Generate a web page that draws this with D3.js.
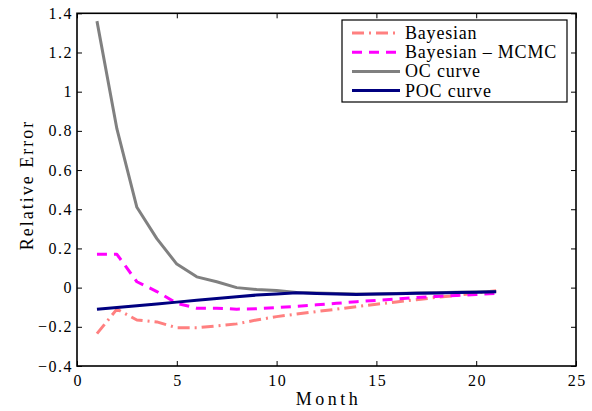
<!DOCTYPE html>
<html>
<head>
<meta charset="utf-8">
<script src="https://cdn.jsdelivr.net/npm/d3@7/dist/d3.min.js"></script>
<style>
  html, body { margin: 0; padding: 0; background: #fff; }
  svg { display: block; }
</style>
</head>
<body>
<svg id="chart" width="592" height="411"></svg>
<script>
// Relative error of each estimator by month
const months = [1, 2, 3, 4, 5, 6, 7, 8, 9, 10, 11, 12, 13, 14, 15, 16, 17, 18, 19, 20, 21];
const bayesian = [-0.235, -0.11, -0.165, -0.175, -0.205, -0.205, -0.195, -0.185, -0.165, -0.148, -0.135, -0.122, -0.11, -0.097, -0.085, -0.073, -0.062, -0.05, -0.04, -0.028, -0.016];
const bayesianMCMC = [0.17, 0.17, 0.03, -0.02, -0.08, -0.105, -0.105, -0.11, -0.108, -0.102, -0.095, -0.088, -0.08, -0.072, -0.065, -0.058, -0.051, -0.045, -0.04, -0.035, -0.03];
const ocCurve = [1.36, 0.81, 0.41, 0.25, 0.12, 0.055, 0.03, 0.0, -0.01, -0.015, -0.025, -0.028, -0.03, -0.033, -0.032, -0.03, -0.028, -0.026, -0.024, -0.022, -0.02];
const pocCurve = [-0.11, -0.101, -0.092, -0.083, -0.074, -0.065, -0.056, -0.047, -0.038, -0.032, -0.026, -0.03, -0.033, -0.035, -0.033, -0.031, -0.029, -0.027, -0.025, -0.023, -0.021];

const xTicks = [0, 5, 10, 15, 20, 25];
const yTicks = [-0.4, -0.2, 0, 0.2, 0.4, 0.6, 0.8, 1, 1.2, 1.4];

const series = [
  { name: "Bayesian", values: bayesian, color: "#ff8080", dash: "12,5,2,5" },
  { name: "Bayesian \u2013 MCMC", values: bayesianMCMC, color: "#ff00ff", dash: "10,7" },
  { name: "OC curve", values: ocCurve, color: "#808080", dash: null },
  { name: "POC curve", values: pocCurve, color: "#000080", dash: null }
];

const SERIF = '"Liberation Serif", "Times New Roman", serif';

const svg = d3.select("#chart");
const plotLeft = 77, plotRight = 576, plotTop = 13.3, plotBottom = 366;

const x = d3.scaleLinear().domain([0, 25]).range([plotLeft, plotRight]);
const y = d3.scaleLinear().domain([-0.4, 1.4]).range([plotBottom, plotTop]);

const fmt = v => (v < 0 ? "\u2212" : "") + d3.format("")(Math.abs(+v.toFixed(1)));

// Series lines (drawn under the frame)
const line = d3.line().x((d, i) => x(months[i])).y(d => y(d));
const plot = svg.append("g");
series.forEach(s => {
  plot.append("path")
    .attr("d", line(s.values))
    .attr("fill", "none")
    .attr("stroke", s.color)
    .attr("stroke-width", 3)
    .attr("stroke-linejoin", "round")
    .attr("stroke-dasharray", s.dash);
});

// Axes with inward ticks on all four sides
const tickLen = 5;
const bottomAxis = svg.append("g").attr("transform", `translate(0,${plotBottom})`)
  .call(d3.axisBottom(x).tickValues(xTicks).tickSizeInner(-tickLen).tickSizeOuter(0).tickPadding(9).tickFormat(d3.format("")));
const topAxis = svg.append("g").attr("transform", `translate(0,${plotTop})`)
  .call(d3.axisTop(x).tickValues(xTicks).tickSizeInner(-tickLen).tickSizeOuter(0).tickFormat(""));
const leftAxis = svg.append("g").attr("transform", `translate(${plotLeft},0)`)
  .call(d3.axisLeft(y).tickValues(yTicks).tickSizeInner(-tickLen).tickSizeOuter(0).tickPadding(4).tickFormat(fmt));
const rightAxis = svg.append("g").attr("transform", `translate(${plotRight},0)`)
  .call(d3.axisRight(y).tickValues(yTicks).tickSizeInner(-tickLen).tickSizeOuter(0).tickFormat(""));

[bottomAxis, topAxis, leftAxis, rightAxis].forEach(g => {
  g.select(".domain").remove();
  g.selectAll(".tick line").attr("stroke", "#000").attr("stroke-width", 1);
  g.selectAll("text")
    .style("font-family", SERIF).style("font-size", "16px")
    .style("letter-spacing", "1.5px").style("fill", "#000");
});
bottomAxis.selectAll("text").attr("dy", "0.71em").attr("dx", "0.75");

// Frame
svg.append("rect")
  .attr("x", plotLeft).attr("y", plotTop)
  .attr("width", plotRight - plotLeft).attr("height", plotBottom - plotTop)
  .attr("fill", "none").attr("stroke", "#000").attr("stroke-width", 1.6);

// Axis titles
svg.append("text")
  .attr("x", (plotLeft + plotRight) / 2 + 2).attr("y", 405)
  .attr("text-anchor", "middle")
  .style("font-family", SERIF).style("font-size", "18px").style("letter-spacing", "3.5px")
  .text("Month");

svg.append("text")
  .attr("transform", `translate(33,185) rotate(-90)`)
  .attr("text-anchor", "middle")
  .style("font-family", SERIF).style("font-size", "18px").style("letter-spacing", "2px")
  .text("Relative Error");

// Legend
const legend = svg.append("g");
legend.append("rect")
  .attr("x", 342).attr("y", 20).attr("width", 225).attr("height", 82)
  .attr("fill", "#fff").attr("stroke", "#000").attr("stroke-width", 1.2);
series.forEach((s, i) => {
  const ly = 33 + i * 19.2;
  legend.append("line")
    .attr("x1", 352).attr("x2", 400).attr("y1", ly).attr("y2", ly)
    .attr("stroke", s.color).attr("stroke-width", 3)
    .attr("stroke-dasharray", s.dash);
  legend.append("text")
    .attr("x", 405).attr("y", ly + 6)
    .style("font-family", SERIF).style("font-size", "18px").style("letter-spacing", "0.8px")
    .text(s.name);
});
</script>
</body>
</html>
